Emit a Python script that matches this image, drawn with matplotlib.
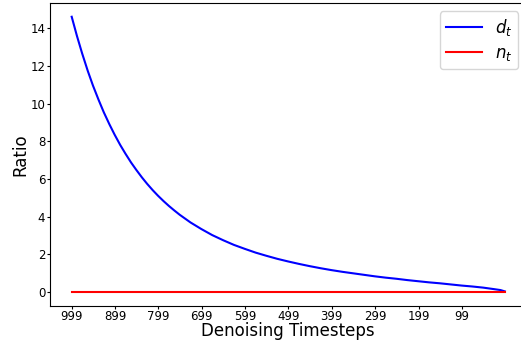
import matplotlib
matplotlib.use("Agg")
import matplotlib.pyplot as plt

# ratio curves over the denoising timesteps (999 -> 0)
timesteps = [999, 987, 975, 962, 950, 937, 925, 912, 900, 887, 875, 862, 850,
             837, 825, 812, 800, 787, 775, 762, 750, 725, 700, 675, 650, 625,
             600, 575, 550, 525, 500, 475, 450, 425, 400, 375, 350, 325, 300,
             275, 250, 225, 200, 175, 150, 125, 100, 75, 50, 25, 10, 0]
d_t = [14.61, 13.60, 12.67, 11.74, 10.96, 10.20, 9.54, 8.90, 8.35, 7.80,
       7.34, 6.87, 6.48, 6.08, 5.74, 5.40, 5.11, 4.82, 4.57, 4.32, 4.10,
       3.69, 3.34, 3.02, 2.75, 2.50, 2.29, 2.09, 1.92, 1.76, 1.62, 1.49,
       1.37, 1.26, 1.16, 1.07, 0.99, 0.91, 0.83, 0.76, 0.70, 0.63, 0.57,
       0.51, 0.46, 0.40, 0.34, 0.29, 0.23, 0.15, 0.10, 0.03]
n_steps = [999, 0]
n_t = [0.0, 0.0]

tick_steps = [999, 899, 799, 699, 599, 499, 399, 299, 199, 99]

fig = plt.figure(figsize=(5.21, 3.41), dpi=100)
ax = fig.add_axes([0.096, 0.1035, 0.9146, 0.8877])

ax.plot(timesteps, d_t, color='blue', lw=1.5, label='$d_t$')
ax.plot(n_steps, n_t, color='red', lw=1.5, label='$n_t$')

ax.set_xlim(1049, -50)
ax.set_ylim(-0.73, 15.34)
ax.set_xticks(tick_steps)
ax.set_xticklabels([str(t) for t in tick_steps])
ax.set_yticks(range(0, 15, 2))
ax.tick_params(labelsize=8.5, length=2.2, pad=1.2)

ax.set_xlabel('Denoising Timesteps', fontsize=12, labelpad=-1)
ax.set_ylabel('Ratio', fontsize=12, labelpad=1)
ax.legend(loc='upper right', fontsize=12, borderpad=0.35,
          labelspacing=0.35, handlelength=2.15)

fig.savefig('out.png', dpi=100)
